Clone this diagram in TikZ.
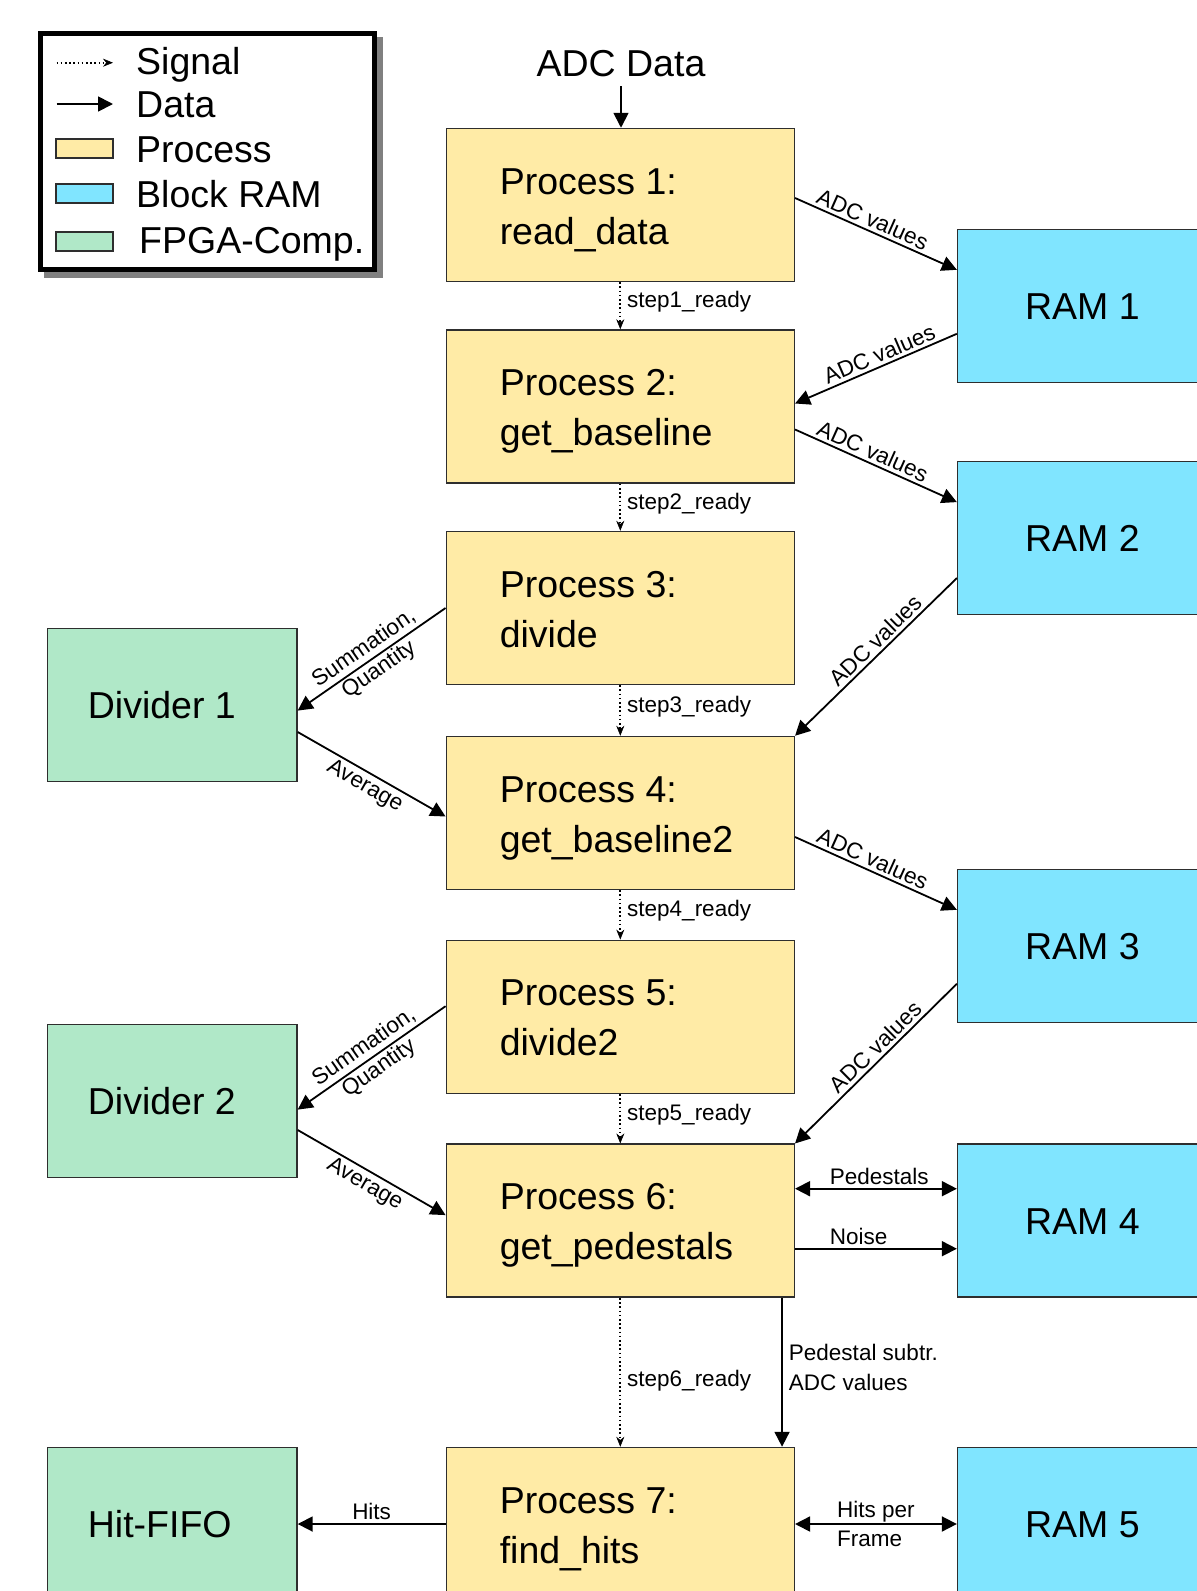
\documentclass[tikz,border=0pt]{standalone}
\usepackage{fontspec}
\setmainfont{Liberation Sans}
\usetikzlibrary{arrows.meta,calc}
\definecolor{procfill}{HTML}{FFEBA6}
\definecolor{ramfill}{HTML}{80E5FF}
\definecolor{fpgafill}{HTML}{B0E8C8}
\definecolor{edgec}{HTML}{2E2E2E}
\begin{document}
\begin{tikzpicture}[x=1pt,y=-1pt,
  box/.style={draw=edgec, line width=1.5pt, minimum height=153pt, inner sep=0pt, anchor=center},
  proc/.style={box, fill=procfill, minimum width=348pt},
  ram/.style={box, fill=ramfill, minimum width=348pt},
  fpga/.style={box, fill=fpgafill, minimum width=249.5pt},
  btxt/.style={font=\fontsize{37.5}{50}\selectfont, inner sep=0pt, text height=27pt, text depth=0pt, anchor=west},
  ptxt/.style={font=\fontsize{37.5}{50}\selectfont, inner sep=0pt, align=left, anchor=west},
  lbl/.style={font=\fontsize{22.5}{29.5}\selectfont, inner sep=3pt},
  steplbl/.style={font=\fontsize{22.5}{29.5}\selectfont, inner sep=0pt, anchor=west, xshift=6pt},
  data/.style={line width=1.8pt, -{Triangle[length=15pt,width=15pt]}},
  bidata/.style={line width=1.8pt, {Triangle[length=15pt,width=15pt]}-{Triangle[length=15pt,width=15pt]}},
  signal/.style={line width=1.8pt, dash pattern=on 1.6pt off 2.6pt, -{Stealth[length=10pt,width=8pt,line width=0.6pt]}},
  legrect/.style={draw=edgec, line width=2pt, minimum width=57pt, minimum height=19pt, inner sep=0pt},
]
\clip (0,0) rectangle (1197,1591);
\useasboundingbox (0,0) rectangle (1197,1591);
\fill[white] (0,0) rectangle (1197,1591);

% ---------- legend ----------
\node[draw=black!50, fill=black!50, line width=5pt, minimum width=334pt, minimum height=236pt, inner sep=0pt] (legshadow) at (213,157.5) {};
\node[draw=black, fill=white, line width=5pt, minimum width=334pt, minimum height=236pt, inner sep=0pt] (legend) at (207,151.5) {};
\coordinate (sigA) at (56.5,62.7);
\coordinate (sigB) at (113,62.7);
\coordinate (datA) at (56.5,104);
\coordinate (datB) at (113,104);
\draw[signal] (sigA) -- (sigB);
\draw[data] (datA) -- (datB);
\node[legrect, fill=procfill] (lproc) at (84.5,148) {};
\node[legrect, fill=ramfill] (lram) at (84.5,193) {};
\node[legrect, fill=fpgafill] (lfpga) at (84.5,241.7) {};
\node[btxt] (tsig) at (136,61) {Signal};
\node[btxt] (tdat) at (136,104) {Data};
\node[btxt] (tproc) at (136,148.5) {Process};
\node[btxt] (tram) at (136,194) {Block RAM};
\node[btxt] (tfpga) at (139,240) {FPGA-Comp.};

% ---------- boxes ----------
\node[proc] (p1) at (620.3,205) {};
\node[proc] (p2) at (620.3,406.5) {};
\node[proc] (p3) at (620.3,608) {};
\node[proc] (p4) at (620.3,813) {};
\node[proc] (p5) at (620.3,1016.8) {};
\node[proc] (p6) at (620.3,1220.7) {};
\node[proc] (p7) at (620.3,1524) {};

\node[ram] (r1) at (1131.6,305.8) {};
\node[ram] (r2) at (1131.6,538.1) {};
\node[ram] (r3) at (1131.6,945.8) {};
\node[ram] (r4) at (1131.6,1220.7) {};
\node[ram] (r5) at (1131.6,1524) {};

\node[fpga] (d1) at (172.2,705) {};
\node[fpga] (d2) at (172.2,1101) {};
\node[fpga] (hf) at (172.2,1524) {};

% ---------- box texts ----------
\node[ptxt, yshift=-4pt] (p1t) at ([xshift=54pt]p1.west) {\strut Process 1:\\\strut read\_data};
\node[ptxt, yshift=-4pt] (p2t) at ([xshift=54pt]p2.west) {\strut Process 2:\\\strut get\_baseline};
\node[ptxt, yshift=-4pt] (p3t) at ([xshift=54pt]p3.west) {\strut Process 3:\\\strut divide};
\node[ptxt, yshift=-4pt] (p4t) at ([xshift=54pt]p4.west) {\strut Process 4:\\\strut get\_baseline2};
\node[ptxt, yshift=-4pt] (p5t) at ([xshift=54pt]p5.west) {\strut Process 5:\\\strut divide2};
\node[ptxt, yshift=-4pt] (p6t) at ([xshift=54pt]p6.west) {\strut Process 6:\\\strut get\_pedestals};
\node[ptxt, yshift=-4pt] (p7t) at ([xshift=54pt]p7.west) {\strut Process 7:\\\strut find\_hits};

\node[btxt] (r1t) at ([xshift=68pt]r1.west) {RAM 1};
\node[btxt] (r2t) at ([xshift=68pt]r2.west) {RAM 2};
\node[btxt] (r3t) at ([xshift=68pt]r3.west) {RAM 3};
\node[btxt] (r4t) at ([xshift=68pt]r4.west) {RAM 4};
\node[btxt] (r5t) at ([xshift=68pt]r5.west) {RAM 5};

\node[btxt] (d1t) at ([xshift=41pt]d1.west) {Divider 1};
\node[btxt] (d2t) at ([xshift=41pt]d2.west) {Divider 2};
\node[btxt] (hft) at ([xshift=41pt]hf.west) {Hit-FIFO};

\node[btxt, anchor=center] (adc) at (621,63.4) {ADC Data};

% ---------- connectors ----------
\draw[data] ([yshift=-9pt]adc.south) -- (adc.south |- p1.north);

\draw[signal] (p1) -- (p2) node[midway, steplbl, yshift=4pt] {step1\_ready};
\draw[signal] (p2) -- (p3) node[midway, steplbl, yshift=4pt] {step2\_ready};
\draw[signal] (p3) -- (p4) node[midway, steplbl, yshift=4pt] {step3\_ready};
\draw[signal] (p4) -- (p5) node[midway, steplbl, yshift=4pt] {step4\_ready};
\draw[signal] (p5) -- (p6) node[midway, steplbl, yshift=4pt] {step5\_ready};
\draw[signal] (p6) -- (p7) node[midway, steplbl, yshift=-8pt] {step6\_ready};

\draw[data] ([yshift=7pt]p1.east) -- ([yshift=36pt]r1.west) node[pos=0.45, sloped, above, lbl] {ADC values};
\draw[data] ([yshift=-28pt]r1.west) -- ([yshift=3pt]p2.east) node[pos=0.45, sloped, above, lbl] {ADC values};
\draw[data] ([yshift=-23pt]p2.east) -- ([yshift=36pt]r2.west) node[pos=0.45, sloped, above, lbl] {ADC values};
\draw[data] ([yshift=-40pt]r2.west) -- (p4.north east) node[pos=0.45, sloped, above, lbl] {ADC values};
\draw[data] ([yshift=-24pt]p4.east) -- ([yshift=36pt]r3.west) node[pos=0.45, sloped, above, lbl] {ADC values};
\draw[data] ([yshift=-38pt]r3.west) -- (p6.north east) node[pos=0.45, sloped, above, lbl] {ADC values};

\draw[data] (p3.west) -- ([yshift=-5.6pt]d1.east) node[midway, sloped, lbl, inner sep=0pt, align=center, font=\fontsize{22.5}{26}\selectfont] {Summation,\\Quantity};
\draw[data] ([yshift=-27pt]d1.east) -- ([yshift=-3.5pt]p4.west) node[midway, sloped, below, lbl] {Average};
\draw[data] ([yshift=10.6pt]p5.west) -- ([yshift=-8.6pt]d2.east) node[midway, sloped, lbl, inner sep=0pt, align=center, font=\fontsize{22.5}{26}\selectfont] {Summation,\\Quantity};
\draw[data] ([yshift=-29pt]d2.east) -- ([yshift=5.6pt]p6.west) node[midway, sloped, below, lbl] {Average};

\draw[bidata] ([yshift=32pt]p6.east) -- ([yshift=32pt]r4.west) node[pos=0.21, anchor=south west, lbl, inner xsep=0pt] {Pedestals};
\draw[data] ([yshift=-28pt]p6.east) -- ([yshift=-28pt]r4.west) node[pos=0.21, anchor=south west, lbl, inner xsep=0pt] {Noise};
\draw[data] ([xshift=-13pt]p6.south east) -- ([xshift=-13pt]p7.north east) node[midway, anchor=west, lbl, inner sep=0pt, xshift=6pt, yshift=5pt, align=left] {Pedestal subtr.\\ADC values};

\draw[data] (p7.west) -- (hf.east) node[midway, above, lbl] {Hits};
\draw[bidata] (p7.east) -- (r5.west) node[midway, lbl, inner sep=0pt, align=left] {Hits per\\Frame};
\end{tikzpicture}
\end{document}
